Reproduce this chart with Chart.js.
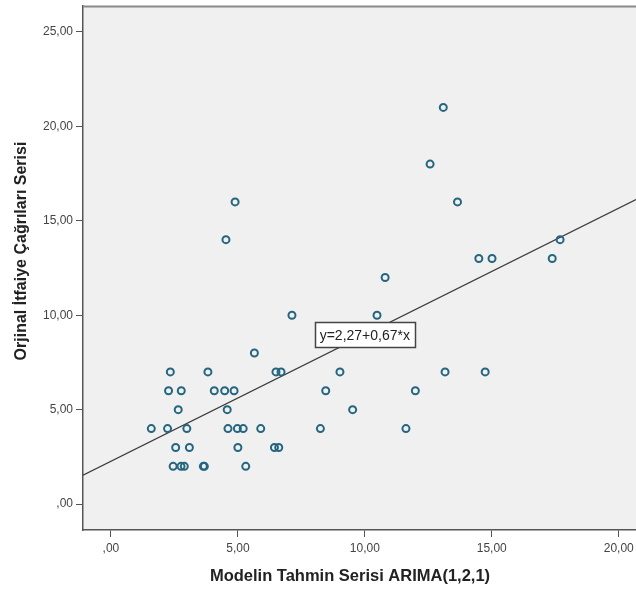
<!DOCTYPE html>
<html>
<head>
<meta charset="utf-8">
<script src="https://cdn.jsdelivr.net/npm/chart.js@4/dist/chart.umd.min.js"></script>
<style>
  html, body { margin: 0; padding: 0; background: #fff; overflow: hidden; }
  #wrap { width: 642px; height: 591px; }
</style>
</head>
<body>
<div id="wrap"><canvas id="chart"></canvas></div>
<script>
// Tahmin (x) ve gerçek (y) değerleri
const xValues = [1.59, 2.23, 2.27, 2.34, 2.65, 2.55, 2.45, 2.77, 2.76, 2.89,
                 2.99, 3.09, 3.64, 3.68, 3.82, 4.07, 4.48, 4.58, 4.53, 4.85,
                 4.89, 4.61, 4.98, 5.21, 5.00, 5.31, 5.65, 5.90, 6.44, 6.61,
                 6.50, 6.70, 7.13, 8.25, 8.46, 9.02, 9.52, 10.48, 10.80, 11.62,
                 11.99, 13.09, 12.57, 13.65, 14.49, 15.01, 17.38, 17.69, 13.16, 14.74];
const yValues = [4, 4, 6, 7, 5, 3, 2, 6, 2, 2,
                 4, 3, 2, 2, 7, 6, 6, 5, 14, 6,
                 16, 4, 4, 4, 3, 2, 8, 4, 3, 3,
                 7, 7, 10, 4, 6, 7, 5, 10, 12, 4,
                 6, 21, 18, 16, 13, 13, 13, 14, 7, 7];

// Regresyon doğrusu
const intercept = 2.27;
const slope = 0.67;
const fitLabel = 'y=2,27+0,67*x';
const fitLabelAt = 10;

// Eksenler
const xTitle = 'Modelin Tahmin Serisi ARIMA(1,2,1)';
const yTitle = 'Orjinal İtfaiye Çağrıları Serisi';
const xTicks = [0, 5, 10, 15, 20];
const yTicks = [0, 5, 10, 15, 20, 25];
const xMin = -1.1, xMax = 20.68;
const yMin = -1.37, yMax = 26.37;

const points = xValues.map((x, i) => ({ x: x, y: yValues[i] }));
const fitLine = [xMin, xMax].map(x => ({ x: x, y: intercept + slope * x }));

// SPSS tarzı sayı biçimi: ",00", "5,00"
function spssFormat(v) {
    let s = v.toFixed(2).replace('.', ',');
    if (s.startsWith('0,')) s = s.substring(1);
    return s;
}

const fontFamily = "'Liberation Sans', Arial, sans-serif";

// Arka plan, üst çizgi ve eksen başlıkları
const plotDecor = {
    id: 'plotDecor',
    beforeDraw(chart) {
        const { ctx, chartArea: a } = chart;
        ctx.save();
        ctx.fillStyle = '#f0f0f0';
        ctx.fillRect(a.left, a.top, a.right - a.left, a.bottom - a.top);
        ctx.restore();
    },
    afterDraw(chart) {
        const { ctx, chartArea: a } = chart;
        ctx.save();
        ctx.strokeStyle = '#8a8a8a';
        ctx.lineWidth = 2;
        ctx.beginPath();
        ctx.moveTo(a.left, a.top + 0.5);
        ctx.lineTo(a.right, a.top + 0.5);
        ctx.stroke();

        ctx.fillStyle = '#222';
        ctx.textAlign = 'center';
        ctx.textBaseline = 'middle';
        ctx.font = 'bold 16.5px ' + fontFamily;
        ctx.fillText(xTitle, a.left + 267, a.bottom + 46);

        ctx.font = 'bold 16px ' + fontFamily;
        ctx.translate(22, (a.top + a.bottom) / 2 - 17);
        ctx.rotate(-Math.PI / 2);
        ctx.fillText(yTitle, 0, 0);
        ctx.restore();
    }
};

const fitLabelBox = {
    id: 'fitLabelBox',
    afterDatasetsDraw(chart) {
        const { ctx, scales } = chart;
        const cx = scales.x.getPixelForValue(fitLabelAt);
        const cy = scales.y.getPixelForValue(intercept + slope * fitLabelAt);
        ctx.save();
        ctx.font = '14px ' + fontFamily;
        const w = Math.round(ctx.measureText(fitLabel).width + 10);
        const h = 25;
        const left = Math.round(cx - w / 2) + 0.5;
        const top = Math.round(cy - h / 2) + 0.5;
        ctx.fillStyle = '#ffffff';
        ctx.fillRect(left, top, w, h);
        ctx.strokeStyle = '#444';
        ctx.lineWidth = 1.5;
        ctx.strokeRect(left, top, w, h);
        ctx.fillStyle = '#222';
        ctx.textAlign = 'center';
        ctx.textBaseline = 'middle';
        ctx.fillText(fitLabel, cx, cy + 1);
        ctx.restore();
    }
};

new Chart(document.getElementById('chart'), {
    type: 'scatter',
    data: {
        datasets: [{
            data: points,
            pointRadius: 3.5,
            pointBorderWidth: 2,
            pointBorderColor: '#24667f',
            pointBackgroundColor: 'rgba(0,0,0,0)',
            showLine: false
        }, {
            type: 'line',
            data: fitLine,
            borderColor: '#3c3c3c',
            borderWidth: 1.3,
            pointRadius: 0,
            fill: false
        }]
    },
    options: {
        responsive: true,
        maintainAspectRatio: false,
        animation: false,
        layout: { padding: { left: 0, top: 2, right: 0, bottom: 0 } },
        plugins: {
            legend: { display: false },
            tooltip: { enabled: false }
        },
        scales: {
            x: {
                type: 'linear',
                min: xMin,
                max: xMax,
                afterBuildTicks: axis => { axis.ticks = xTicks.map(v => ({ value: v })); },
                afterFit: axis => {
                    axis.height = 61;
                    axis.paddingLeft = 0;
                    axis.paddingRight = 0;
                },
                border: { display: true, color: '#555', width: 1.5 },
                grid: { drawOnChartArea: false, drawTicks: true, tickLength: 7, color: '#555' },
                ticks: {
                    callback: v => spssFormat(v),
                    color: '#444',
                    font: { family: fontFamily, size: 12 },
                    padding: 4,
                    maxRotation: 0
                }
            },
            y: {
                type: 'linear',
                min: yMin,
                max: yMax,
                afterBuildTicks: axis => { axis.ticks = yTicks.map(v => ({ value: v })); },
                afterFit: axis => {
                    axis.width = 83;
                    axis.paddingTop = 0;
                    axis.paddingBottom = 0;
                },
                border: { display: true, color: '#555', width: 1.5 },
                grid: { drawOnChartArea: false, drawTicks: true, tickLength: 7, color: '#555' },
                ticks: {
                    callback: v => spssFormat(v),
                    color: '#444',
                    font: { family: fontFamily, size: 12 },
                    padding: 3
                }
            }
        }
    },
    plugins: [plotDecor, fitLabelBox]
});
</script>
</body>
</html>
